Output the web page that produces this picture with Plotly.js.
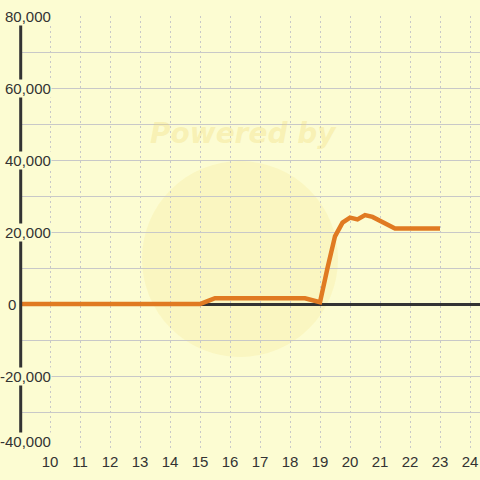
<!DOCTYPE html>
<html>
<head>
<meta charset="utf-8">
<script src="https://cdn.plot.ly/plotly-3.0.1.min.js"></script>
<style>html,body{margin:0;padding:0;background:#fcfcd2;}#chart{width:480px;height:480px;}</style>
</head>
<body>
<div id="chart"></div>
<script>
// Data (hour of day vs value)
const hours  = [9, 15, 15.25, 15.5, 18.5, 18.75, 19, 19.25, 19.5, 19.75, 20, 20.25, 20.5, 20.75, 21, 21.25, 21.5, 23];
const values = [0, 0, 800, 1600, 1600, 1200, 500, 10000, 18800, 22600, 24000, 23500, 24700, 24200, 23200, 22100, 21000, 21000];

const xTickVals = [10, 11, 12, 13, 14, 15, 16, 17, 18, 19, 20, 21, 22, 23, 24];
const xTickText = ['10','11','12','13','14','15','16','17','18','19','20','21','22','23','24'];
const yTickVals = [80000, 60000, 40000, 20000, 0, -20000, -40000];
const yTickText = ['80,000','60,000','40,000','20,000','0','-20,000','-40,000'];

const BG = '#fcfcd2';
const TXT = '#333333';
const FONT = 'Liberation Sans, Arial, sans-serif';

const W = 480, H = 480, ML = 20, MR = 0, MT = 16, MB = 32;
const PW = W - ML - MR, PH = H - MT - MB;
const px2paperX = p => (p - ML) / PW;
const px2paperY = p => (H - MB - p) / PH;

const annotations = yTickVals.map((v, i) => {
  const isZero = v === 0;
  return {
    xref: 'paper', yref: 'y',
    x: isZero ? px2paperX(7) : px2paperX(52),
    xanchor: isZero ? 'left' : 'right',
    y: v, yanchor: 'middle',
    yshift: (v === -40000) ? 7 : 0,
    text: yTickText[i],
    showarrow: false,
    bgcolor: BG, borderpad: 0,
    font: {family: FONT, size: 15, color: TXT}
  };
});

annotations.push({
  xref: 'paper', yref: 'paper',
  x: px2paperX(243), y: px2paperY(133),
  xanchor: 'center', yanchor: 'middle',
  text: 'Powered by', showarrow: false,
  font: {family: 'DejaVu Sans, sans-serif', size: 28, weight: 'bold', style: 'italic', color: 'rgba(238,215,110,0.30)'}
});

const shapes = [
  {type: 'circle', xref: 'paper', yref: 'paper', layer: 'below',
   x0: px2paperX(142), x1: px2paperX(338), y0: px2paperY(357), y1: px2paperY(161),
   fillcolor: 'rgba(248,228,130,0.22)', line: {width: 0}},
  {type: 'line', xref: 'paper', yref: 'paper', layer: 'above',
   x0: px2paperX(20.7), x1: px2paperX(20.7), y0: 0, y1: 1,
   line: {color: '#333333', width: 3}}
];

const trace = {
  x: hours, y: values, type: 'scatter', mode: 'lines',
  line: {color: '#e07a22', width: 4.5},
  hoverinfo: 'skip'
};

const layout = {
  width: W, height: H,
  margin: {l: ML, r: MR, t: MT, b: MB, pad: 0},
  paper_bgcolor: BG, plot_bgcolor: BG,
  showlegend: false,
  xaxis: {
    range: [9, 9 + PW / 30], tickmode: 'array', tickvals: xTickVals, ticktext: xTickText,
    showgrid: true, gridcolor: '#c8c8c8', gridwidth: 1, griddash: '2px,3px',
    zeroline: false, showline: false, ticks: '', ticklabelstandoff: 3,
    tickfont: {family: FONT, size: 15, color: TXT}, fixedrange: true
  },
  yaxis: {
    range: [-40000, 80000], tickmode: 'linear', tick0: 0, dtick: 10000,
    showgrid: true, gridcolor: '#c8c8c8', gridwidth: 1,
    zeroline: true, zerolinecolor: '#333333', zerolinewidth: 3,
    showline: false, showticklabels: false, ticks: '', fixedrange: true
  },
  shapes: shapes,
  annotations: annotations
};

Plotly.newPlot('chart', [trace], layout, {displayModeBar: false, staticPlot: true});
</script>
</body>
</html>
